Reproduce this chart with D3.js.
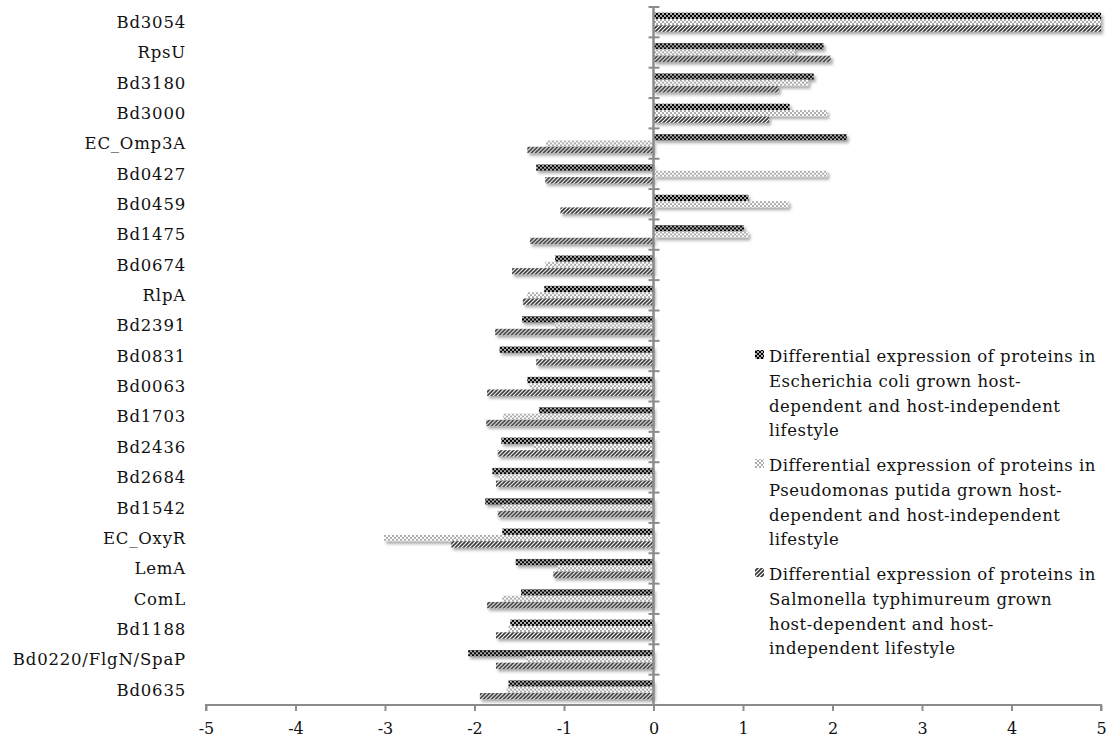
<!DOCTYPE html>
<html>
<head>
<meta charset="utf-8">
<script src="https://cdn.jsdelivr.net/npm/d3@7"></script>
<style>
  body { margin: 0; background: #fff; }
  text { font-family: "DejaVu Serif", serif; fill: #111; }
</style>
</head>
<body>
<svg width="1117" height="744"></svg>
<script>
const categories = ["Bd3054", "RpsU", "Bd3180", "Bd3000", "EC_Omp3A", "Bd0427", "Bd0459", "Bd1475",
  "Bd0674", "RlpA", "Bd2391", "Bd0831", "Bd0063", "Bd1703", "Bd2436", "Bd2684", "Bd1542",
  "EC_OxyR", "LemA", "ComL", "Bd1188", "Bd0220/FlgN/SpaP", "Bd0635"];

const ecoli = [5, 1.90, 1.79, 1.52, 2.16, -1.31, 1.06, 1.01, -1.10, -1.22, -1.47, -1.72, -1.41,
  -1.28, -1.70, -1.80, -1.88, -1.69, -1.54, -1.48, -1.60, -2.07, -1.62];
const putida = [5, 1.58, 1.73, 1.94, -1.20, 1.94, 1.51, 1.06, -1.21, -1.41, -1.10, -1.25, -1.38,
  -1.68, -1.34, -1.73, -1.69, -3.01, -1.08, -1.69, -1.62, -1.42, -1.64];
const salmonella = [5, 1.98, 1.40, 1.29, -1.41, -1.21, -1.04, -1.38, -1.58, -1.46, -1.77, -1.31, -1.86,
  -1.87, -1.74, -1.76, -1.74, -2.26, -1.12, -1.86, -1.76, -1.76, -1.94];

const seriesNames = [
  ["Differential expression of proteins in", "Escherichia coli grown host-", "dependent and host-independent", "lifestyle"],
  ["Differential expression of proteins in", "Pseudomonas putida grown host-", "dependent and host-independent", "lifestyle"],
  ["Differential expression of proteins in", "Salmonella typhimureum grown", "host-dependent and host-", "independent lifestyle"]
];
const xTicks = [-5, -4, -3, -2, -1, 0, 1, 2, 3, 4, 5];

const series = [ecoli, putida, salmonella];
const svg = d3.select("svg");

const x = d3.scaleLinear().domain([-5, 5]).range([206, 1101]);
const y = d3.scaleBand().domain(categories).range([7, 705]);
const ySub = d3.scaleBand().domain([0, 1, 2]).range([0, y.bandwidth()]).paddingOuter(0.9);

// patterns
const defs = svg.append("defs");
const p1 = defs.append("pattern").attr("id", "pat0").attr("patternUnits", "userSpaceOnUse")
  .attr("width", 4).attr("height", 4);
p1.append("rect").attr("width", 4).attr("height", 4).attr("fill", "#000");
p1.append("circle").attr("cx", 1).attr("cy", 1).attr("r", 0.9).attr("fill", "#fff");
p1.append("circle").attr("cx", 3).attr("cy", 3).attr("r", 0.9).attr("fill", "#fff");

const p2 = defs.append("pattern").attr("id", "pat1").attr("patternUnits", "userSpaceOnUse")
  .attr("width", 4).attr("height", 4);
p2.append("rect").attr("width", 4).attr("height", 4).attr("fill", "#fff");
p2.append("circle").attr("cx", 1).attr("cy", 1).attr("r", 0.75).attr("fill", "#333");
p2.append("circle").attr("cx", 3).attr("cy", 3).attr("r", 0.75).attr("fill", "#333");

const p3 = defs.append("pattern").attr("id", "pat2").attr("patternUnits", "userSpaceOnUse")
  .attr("width", 4).attr("height", 4);
p3.append("rect").attr("width", 4).attr("height", 4).attr("fill", "#fff");
p3.append("path").attr("d", "M-1,5 L5,-1 M-1,1 L1,-1 M3,5 L5,3")
  .attr("stroke", "#333").attr("stroke-width", 1.6);

const shadow = defs.append("filter").attr("id", "shadow")
  .attr("x", "-5%").attr("y", "-50%").attr("width", "110%").attr("height", "250%");
shadow.append("feDropShadow").attr("dx", 2).attr("dy", 2.5).attr("stdDeviation", 1.4)
  .attr("flood-color", "#000").attr("flood-opacity", 0.35);

// bars
const groups = svg.append("g").selectAll("g")
  .data(categories)
  .join("g")
  .attr("transform", d => `translate(0,${y(d)})`);

groups.selectAll("rect")
  .data((d, i) => series.map((s, k) => ({ k, v: s[i] })))
  .join("rect")
  .attr("x", d => x(Math.min(0, d.v)))
  .attr("width", d => Math.abs(x(d.v) - x(0)))
  .attr("y", d => ySub(d.k))
  .attr("height", ySub.bandwidth())
  .attr("fill", d => `url(#pat${d.k})`)
  .attr("filter", "url(#shadow)");

// vertical axis (at zero)
const axisColor = "#8c8c8c";
const yAxis = svg.append("g").attr("transform", `translate(${x(0)},0)`);
yAxis.append("line").attr("y1", y.range()[0]).attr("y2", y.range()[1])
  .attr("stroke", axisColor).attr("stroke-width", 2.5);
yAxis.selectAll("line.tk")
  .data(d3.range(categories.length + 1))
  .join("line").attr("class", "tk")
  .attr("x1", -5).attr("x2", 6)
  .attr("y1", i => y.range()[0] + i * y.step())
  .attr("y2", i => y.range()[0] + i * y.step())
  .attr("stroke", axisColor).attr("stroke-width", 2);

// category labels
svg.append("g").selectAll("text")
  .data(categories)
  .join("text")
  .attr("x", 186)
  .attr("y", d => y(d) + y.bandwidth() / 2)
  .attr("dy", "0.35em")
  .attr("text-anchor", "end")
  .style("font-size", "16.5px")
  .style("letter-spacing", "0.8px")
  .text(d => d);

// x axis
const xAxis = svg.append("g").attr("transform", `translate(0,${y.range()[1]})`)
  .call(d3.axisBottom(x).tickValues(xTicks).tickSize(6).tickPadding(12).tickFormat(d => String(d)));
xAxis.select(".domain").attr("stroke", axisColor).attr("stroke-width", 2).attr("d", `M${x(-5)},6V0H${x(5)}V6`);
xAxis.selectAll(".tick line").attr("stroke", axisColor).attr("stroke-width", 2);
xAxis.selectAll(".tick text").style("font-family", "DejaVu Serif, serif").style("font-size", "16px").attr("fill", "#111");

// legend
const legend = svg.append("g").attr("transform", "translate(755,357)");
seriesNames.forEach((lines, k) => {
  const g = legend.append("g").attr("transform", `translate(0,${k * 109})`);
  g.append("rect").attr("x", 0).attr("y", -7).attr("width", 9).attr("height", 9)
    .attr("fill", `url(#pat${k})`);
  g.selectAll("text")
    .data(lines)
    .join("text")
    .attr("x", 14)
    .attr("y", (d, i) => i * 24.7)
    .attr("dy", "0.32em")
    .style("font-size", "16.5px")
    .style("letter-spacing", "0.5px")
    .text(d => d);
});
</script>
</body>
</html>
